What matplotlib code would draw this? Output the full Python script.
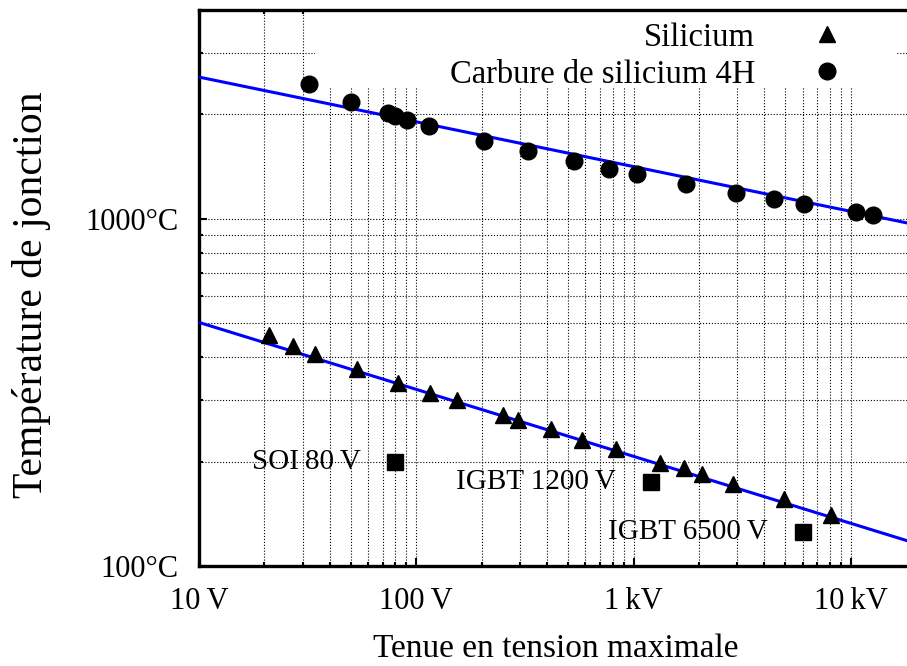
import numpy as np
import matplotlib
matplotlib.use("Agg")
import matplotlib.pyplot as plt
from matplotlib.patches import Rectangle
from matplotlib.ticker import FixedLocator, NullFormatter

# Silicium (triangles)
si_v = [21, 27.2, 34.1, 53.5, 82, 116, 154, 251, 295, 417, 581, 830,
        1323, 1711, 2071, 2858, 4937, 8124]
si_t = [463, 430, 407, 370, 337, 316, 300, 272, 263, 248, 231, 218,
        198.5, 191, 184, 172.7, 156.3, 140.3]

# Carbure de silicium 4H (disques)
sic_v = [32.2, 50.1, 74.3, 79.8, 90.9, 114.8, 205, 326, 532, 768, 1034,
         1742, 2960, 4413, 6104, 10556, 12640]
sic_t = [2443, 2169, 2016, 1985, 1925, 1853, 1681, 1570, 1467, 1394, 1348,
         1264, 1190, 1142, 1105, 1045, 1027]

# composants reels (carres)
comp_v = [80, 1200, 6000]
comp_t = [200, 175, 125]
comp_lab = ["SOI\u200980\u2009V", "IGBT 1200\u2009V", "IGBT 6500\u2009V"]

# droites d'ajustement T = a * V**b
si_fit = (785, -0.193)
sic_fit = (3450, -0.129)

xticks = [10, 100, 1000, 10000]
xticklabels = ["10\u2009V", "100\u2009V", "1\u2009kV", "10\u2009kV"]
yticks = [100, 1000]
yticklabels = ["100°C", "1000°C"]

plt.rcParams['font.family'] = ['Liberation Serif', 'DejaVu Serif']
plt.rcParams['font.size'] = 21

W, H = 907, 666
fig = plt.figure(figsize=(W/100, H/100), dpi=100)
ax = fig.add_axes([199/W, 100/H, 717/W, 556/H])
ax.set_xscale('log')
ax.set_yscale('log')
ax.set_xlim(10, 10**(1 + 717/217.3))
ax.set_ylim(100, 4000)

vv = np.logspace(1, 4.4, 60)
ax.plot(vv, sic_fit[0] * vv**sic_fit[1], color='#0000ff', lw=2.2, zorder=3)
ax.plot(vv, si_fit[0] * vv**si_fit[1], color='#0000ff', lw=2.2, zorder=3)

ax.plot(si_v, si_t, ls='none', marker='^', ms=12, color='black', label='Silicium', zorder=4)
ax.plot(sic_v, sic_t, ls='none', marker='o', ms=12, color='black',
        label='Carbure de silicium 4H', zorder=4)
ax.plot(comp_v, comp_t, ls='none', marker='s', ms=12, color='black', zorder=4)
for v, t, lab in zip(comp_v, comp_t, comp_lab):
    ax.annotate(lab, (v, t), xytext=(-25, 0), textcoords='offset points',
                ha='right', va='center')

ax.xaxis.set_major_locator(FixedLocator(xticks))
ax.set_xticklabels(xticklabels)
ax.yaxis.set_major_locator(FixedLocator(yticks))
ax.set_yticklabels(yticklabels)
xminor = [m * 10**e for e in range(1, 5) for m in range(2, 10)]
yminor = [m * 10**e for e in range(2, 4) for m in range(2, 10)]
ax.xaxis.set_minor_locator(FixedLocator(xminor))
ax.yaxis.set_minor_locator(FixedLocator(yminor))
ax.xaxis.set_minor_formatter(NullFormatter())
ax.yaxis.set_minor_formatter(NullFormatter())

ax.tick_params(which='both', direction='in', top=True, right=False, width=1.5,
               labelsize=22)
ax.tick_params(which='major', length=6, pad=15)
ax.tick_params(which='minor', length=3)
ax.grid(which='both', ls=':', color='black', lw=0.8, zorder=1)
ax.set_axisbelow(True)

for s in ['left', 'bottom', 'top']:
    ax.spines[s].set_linewidth(2.4)
ax.spines['right'].set_visible(False)

# fond blanc de la legende (cache la grille)
ax.add_patch(Rectangle(((315-199)/717, (566-88)/556), (896-315)/717, 78/556,
                       transform=ax.transAxes, facecolor='white',
                       edgecolor='none', zorder=2))

fig.text(556/W, 9/H, 'Tenue en tension maximale', fontsize=24,
         ha='center', va='baseline')
fig.text(42/W, 1 - 295/H, 'Température de jonction', fontsize=30,
         rotation=90, rotation_mode='anchor', ha='center', va='baseline')

leg = ax.legend(loc='upper right', bbox_to_anchor=(0.903, 0.978), markerfirst=False,
                frameon=False, fontsize=23.5, handlelength=1.2, handletextpad=1.6,
                borderpad=0, labelspacing=0.2, borderaxespad=0)
leg.set_zorder(5)

fig.savefig('out.png', dpi=100)
